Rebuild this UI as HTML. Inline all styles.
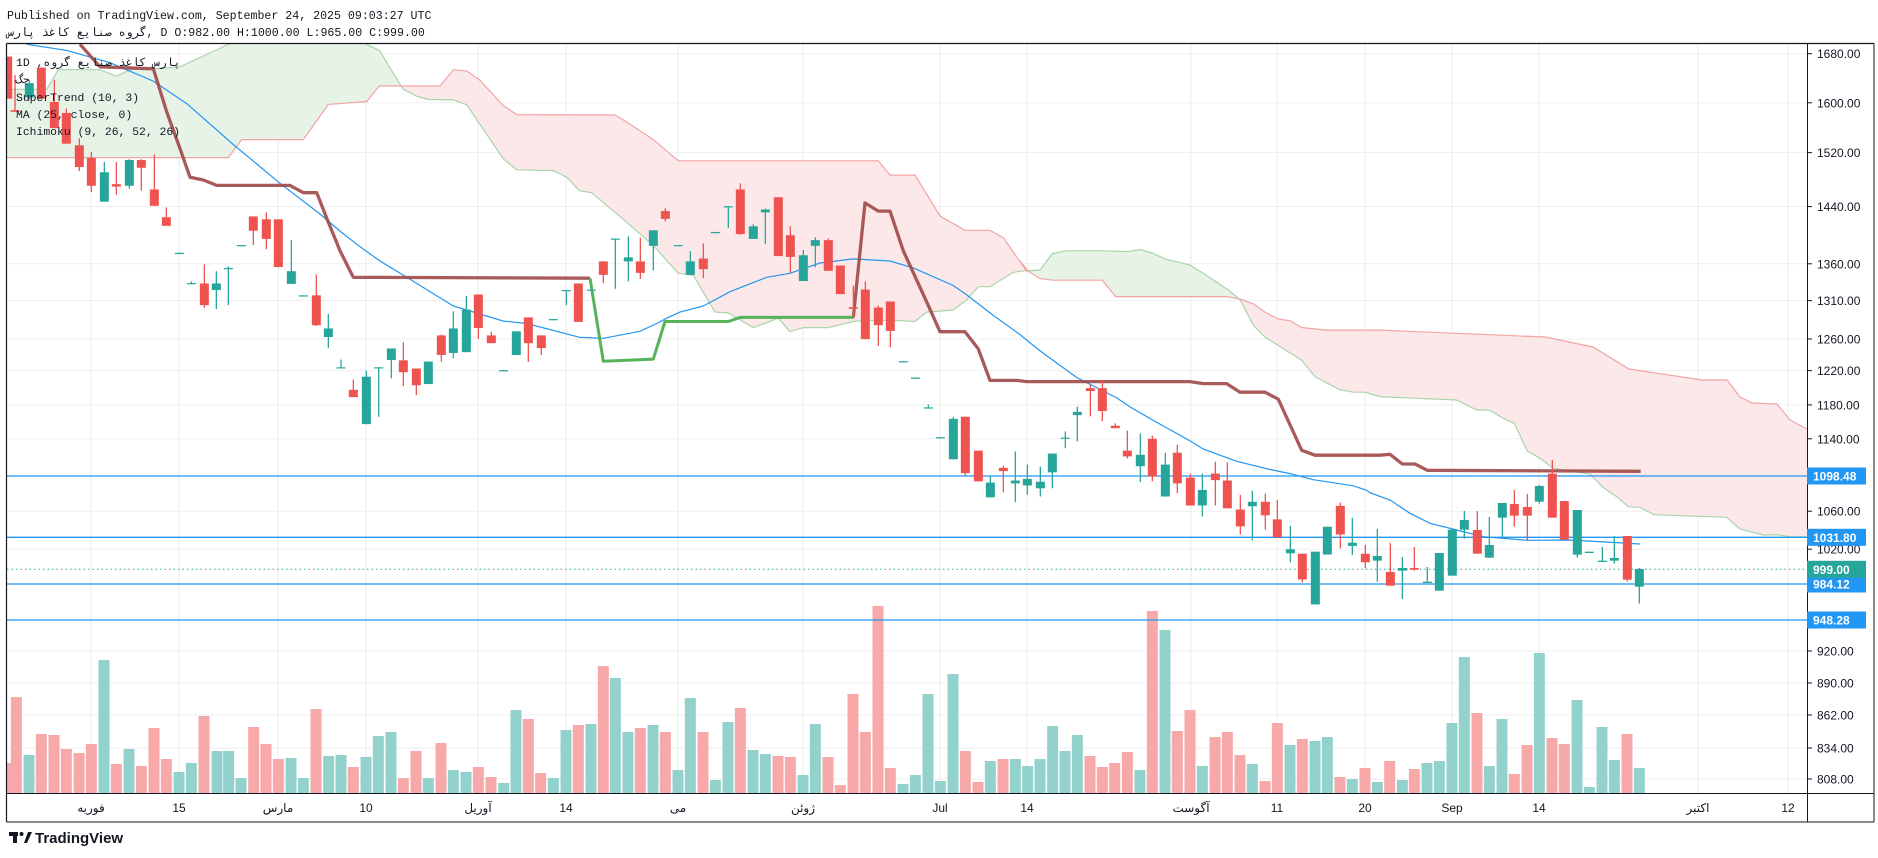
<!DOCTYPE html>
<html><head><meta charset="utf-8">
<style>
html,body{margin:0;padding:0;background:#fff;}
svg{display:block;}
text{font-family:"Liberation Sans","DejaVu Sans",sans-serif;}
text.mono,.mono text{font-family:"Liberation Mono","DejaVu Sans Mono","DejaVu Sans",monospace;}
</style></head>
<body>
<svg id="s" xmlns="http://www.w3.org/2000/svg" width="1878" height="858" viewBox="0 0 1878 858">
<defs>
<clipPath id="plot"><rect x="7" y="44" width="1800" height="749"/></clipPath>
<clipPath id="gz"><rect x="0" y="0" width="398" height="900"/><rect x="1028" y="0" width="207" height="900"/></clipPath>
<clipPath id="rz"><rect x="398" y="0" width="630" height="900"/><rect x="1235" y="0" width="700" height="900"/></clipPath>
</defs>
<rect width="1878" height="858" fill="#fff"/>
<text class="mono" x="7" y="19" font-size="11.6" fill="#131722">Published on TradingView.com, September 24, 2025 09:03:27 UTC</text>
<text class="mono" x="7" y="36" font-size="11.6" fill="#131722" style="unicode-bidi:bidi-override;direction:ltr">سراپ ذغاک عیانص هورگ, D O:982.00 H:1000.00 L:965.00 C:999.00</text>
<g id="grid" stroke="#efefef" stroke-width="1"></g>
<g clip-path="url(#plot)">
 <g id="cloud"></g>
 <g id="vol"></g>
 <g id="hl"></g>
 <g id="lines"></g>
 <g id="cand"></g>
</g>
<line x1="6.5" y1="43.5" x2="1874" y2="43.5" stroke="#131722" stroke-width="1.2"/>
<line x1="6.5" y1="43.5" x2="6.5" y2="822" stroke="#131722" stroke-width="1.2"/>
<line x1="1807.5" y1="43.5" x2="1807.5" y2="822" stroke="#131722" stroke-width="1"/>
<line x1="1874" y1="43.5" x2="1874" y2="822" stroke="#131722" stroke-width="1"/>
<line x1="6.5" y1="793.5" x2="1874" y2="793.5" stroke="#131722" stroke-width="1"/>
<line x1="6.5" y1="822" x2="1874" y2="822" stroke="#131722" stroke-width="1"/>
<g id="axis" font-size="12" fill="#131722"></g>
<g id="legend" class="mono" font-size="11.4" fill="#131722">
 <text x="16" y="66" style="unicode-bidi:bidi-override;direction:ltr">1D  ,هورگ عیانص ذغاک سراپ</text>
 <text x="16" y="83" style="unicode-bidi:bidi-override;direction:ltr">گج</text>
 <text x="16" y="101">SuperTrend (10, 3)</text>
 <text x="16" y="118">MA (25, close, 0)</text>
 <text x="16" y="135">Ichimoku (9, 26, 52, 26)</text>
</g>
<g id="logo">
 <rect x="9" y="832" width="9" height="4" fill="#131722"/>
 <rect x="13" y="832" width="4" height="11" fill="#131722"/>
 <circle cx="21.5" cy="834" r="2" fill="#131722"/>
 <path d="M24 843 L28 832 L32 832 L27 843 Z" fill="#131722"/>
 <text x="35" y="843" font-size="15" font-weight="bold" fill="#131722">TradingView</text>
</g>
</svg>
<script>
var NS="http://www.w3.org/2000/svg";
function el(p,t,a){var e=document.createElementNS(NS,t);for(var k in a)e.setAttribute(k,a[k]);p.appendChild(e);return e;}
var G=function(id){return document.getElementById(id);};
var hy=[53.7,102.8,152.6,206.6,263.8,300.6,339,370.6,404.9,438.8,476,511.2,549.2,651,683,715,748,779];
hy.forEach(function(y){el(G('grid'),'line',{x1:7,x2:1807,y1:y,y2:y});});
var vx=[91,179,278,366,478,566,678,803,940,1027,1191,1277,1365,1452,1539,1698,1788];
vx.forEach(function(x){el(G('grid'),'line',{x1:x,x2:x,y1:44,y2:793,stroke:'#ebebeb'});});
var tl=[[91,'فوریه'],[179,'15'],[278,'مارس'],[366,'10'],[478,'آوریل'],[566,'14'],[678,'می'],[803,'ژوئن'],[940,'Jul'],[1027,'14'],[1191,'آگوست'],[1277,'11'],[1365,'20'],[1452,'Sep'],[1539,'14'],[1698,'اکتبر'],[1788,'12']];
tl.forEach(function(t){var e=el(G('axis'),'text',{x:t[0],y:812,'text-anchor':'middle'});e.textContent=t[1];});
var pl=[[53.7,'1680.00'],[102.8,'1600.00'],[152.6,'1520.00'],[206.6,'1440.00'],[263.8,'1360.00'],[300.6,'1310.00'],[339,'1260.00'],[370.6,'1220.00'],[404.9,'1180.00'],[438.8,'1140.00'],[511.2,'1060.00'],[549.2,'1020.00'],[651,'920.00'],[683,'890.00'],[715,'862.00'],[748,'834.00'],[779,'808.00']];
pl.forEach(function(p){el(G('axis'),'line',{x1:1807,x2:1812,y1:p[0],y2:p[0],stroke:'#131722'});var e=el(G('axis'),'text',{x:1817,y:p[0]+4.5});e.textContent=p[1];});
var hls=[[476,'1098.48','#2196f3'],[537.3,'1031.80','#2196f3'],[584,'984.12','#2196f3'],[620,'948.28','#2196f3']];
hls.forEach(function(h){el(G('hl'),'line',{x1:7,x2:1807,y1:h[0],y2:h[0],stroke:h[2],'stroke-width':1.3});});
el(G('hl'),'line',{x1:7,x2:1807,y1:569.3,y2:569.3,stroke:'#26a69a','stroke-width':1,'stroke-dasharray':'1.5 3'});
var bx=hls.concat([[569.3,'999.00','#26a69a']]);
bx.forEach(function(h){el(G('axis'),'rect',{x:1807,y:h[0]-8.5,width:59,height:17,fill:h[2]});var e=el(G('axis'),'text',{x:1813,y:h[0]+4.5,fill:'#fff','font-weight':'bold'});e.textContent=h[1];});
function cv(a,ox,oy,sx,sy){return a.map(function(p){return [ox+p[0]*sx,oy+p[1]*sy];});}
var S=1/3,Y=1/2.446;
function z(a,ox){return cv(a,ox,30,S,Y);}
var A=[].concat(
 z([[20,145],[140,145],[175,97],[300,97],[350,113],[390,97],[460,95],[540,90],[620,60],[690,33]],0),
 [[300,10]],
 z([[80,35],[118,50],[190,145],[230,162],[265,170],[340,171],[380,183],[490,315],[530,342],[640,344],[680,360],[718,393],[755,398],[860,470],[940,527],[1015,595]],340),
 z([[40,600],[105,690],[145,692],[220,728],[295,705],[330,738],[370,728],[445,728],[520,713],[560,710],[640,710],[705,713],[740,690],[820,685],[860,660],[895,628],[930,628],[1000,593]],680),
 z([[0,590],[60,587],[97,547],[140,540],[245,540],[325,542],[360,537],[395,545],[435,560],[510,575],[550,595],[590,617],[625,636],[660,660],[700,722],[735,751],[845,808],[885,848],[960,880],[1000,886],[1035,886],[1080,897]],1020),
 cv([[260,0],[320,30],[358,30],[400,55],[433,70],[472,153],[510,175],[550,205],[660,222],[700,263],[740,290],[775,320],[810,322],[850,343]],1370,400,S,S),
 cv([[520,404],[740,412],[780,447],[850,465],[890,464],[930,470],[980,471]],1480,380,S,S)
);
var B=[].concat(
 z([[20,312],[685,312],[725,268],[910,268],[985,182],[1050,178]],0),
 z([[80,175],[118,137],[300,137],[340,97],[380,100],[420,123],[490,185],[530,207],[825,208],[860,225],[940,268],[1015,320]],340),
 z([[30,320],[595,320],[630,355],[705,355],[780,455],[855,490],[930,490],[970,508],[1040,590]],680),
 z([[0,565],[25,590],[60,608],[100,612],[247,612],[287,652],[620,652],[660,658],[700,670],[735,690],[775,707],[810,711],[845,728],[920,734],[1080,734]],1020),
 [[1545,337],[1593,347],[1629,369],[1702,380],[1727,380],[1740,397],[1752,403],[1777,404],[1790,420],[1807,429]]
);
function pts(a){return a.map(function(p){return p[0].toFixed(1)+','+p[1].toFixed(1);}).join(' ');}
var poly=pts(A.concat([[1807,537]]).concat(B.slice().reverse()).concat([[7,152]]));
el(G('cloud'),'polygon',{points:poly,fill:'#e8f3e8','clip-path':'url(#gz)'});
el(G('cloud'),'polygon',{points:poly,fill:'#fce8e8','clip-path':'url(#rz)'});
el(G('cloud'),'polyline',{points:pts(A),fill:'none',stroke:'#a9d5aa','stroke-width':1.2});
el(G('cloud'),'polyline',{points:pts(B),fill:'none',stroke:'#f0a4a4','stroke-width':1.2});
function vol(a,ox,oy){a.forEach(function(v){var x=ox+v[0]/3,t=oy+v[1]/3;el(G('vol'),'rect',{x:x-5.5,y:t,width:11,height:793-t,fill:v[2]=='g'?'#93d2cc':'#f6a9a8'});});}
vol([[24,489,'r'],[49,291,'r'],[87,465,'g'],[124,402,'r'],[162,405,'r'],[199,447,'r'],[237,459,'r'],[274,432,'r'],[312,180,'g'],[349,492,'r'],[387,447,'g'],[424,498,'r'],[462,384,'r'],[499,477,'r'],[537,516,'g'],[574,489,'g'],[612,348,'r'],[651,453,'g'],[686,453,'g'],[723,534,'g'],[761,381,'r'],[798,432,'r'],[835,477,'r'],[873,474,'g'],[910,534,'g'],[948,327,'r'],[986,468,'g'],[1023,465,'g'],[1060,501,'r'],[1098,471,'g'],[1135,408,'g'],[1173,396,'g'],[1210,534,'r'],[1248,453,'r'],[1285,534,'g'],[1323,429,'r'],[1360,510,'g'],[1398,516,'g'],[1435,501,'r'],[1473,531,'r'],[1511,549,'g'],[1548,330,'g']],0,600);
vol([[25,357,'r'],[62,519,'r'],[100,534,'g'],[138,390,'g'],[175,375,'r'],[213,372,'g'],[250,198,'r'],[286,234,'g'],[324,396,'g'],[361,384,'r'],[399,375,'g'],[436,396,'r'],[474,510,'g'],[511,294,'g'],[549,396,'r'],[586,540,'g'],[624,366,'g'],[661,324,'r'],[699,450,'g'],[736,462,'g'],[774,468,'r'],[811,471,'r'],[849,525,'g'],[886,372,'g'],[924,471,'r'],[961,555,'r'],[999,282,'r'],[1036,396,'r'],[1074,18,'r'],[1111,504,'r'],[1149,552,'g'],[1186,525,'g'],[1224,282,'g'],[1261,543,'g'],[1299,222,'g'],[1336,453,'r'],[1374,546,'r'],[1411,483,'g'],[1449,477,'r'],[1486,477,'g'],[1523,498,'g'],[1560,477,'g']],520,600);
vol([[38,378,'g'],[75,453,'g'],[112,405,'g'],[150,468,'r'],[187,501,'r'],[224,489,'r'],[262,456,'r'],[300,510,'g'],[337,33,'r'],[375,90,'g'],[412,393,'r'],[450,330,'r'],[487,498,'g'],[525,411,'r'],[562,396,'r'],[600,465,'r'],[637,492,'g'],[675,543,'r'],[712,369,'r'],[750,435,'g'],[787,417,'r'],[825,423,'g'],[862,411,'g'],[900,531,'r'],[937,537,'g'],[975,504,'r']],1040,600);
vol([[22,1146,'g'],[59,1083,'r'],[97,1140,'g'],[133,1107,'r'],[171,1089,'g'],[208,1083,'g'],[246,969,'g'],[283,771,'g'],[321,939,'r'],[358,1098,'g'],[396,957,'g'],[433,1122,'r'],[471,1035,'r'],[508,759,'g'],[546,1014,'r'],[583,1032,'r'],[621,900,'g'],[658,1161,'g'],[696,981,'g'],[733,1080,'g'],[771,1002,'r'],[808,1104,'g']],1370,400);
var brown1=[].concat(
 z([[240,35],[300,90],[460,95],[500,200],[540,290],[570,360],[610,367],[650,380],[870,380],[910,398],[950,398],[980,460],[1020,540]],0),
 z([[40,605],[750,607]],340));
var green=[].concat(z([[750,607],[790,810],[940,805],[975,713],[1050,713]],340),z([[145,713],[180,703],[520,703]],680));
var brown2=[].concat(
 z([[520,703],[555,423],[595,443],[630,443],[670,540],[740,665],[780,738],[855,738],[895,780],[930,857],[1010,857]],680),
 z([[20,860],[510,860],[550,865],[620,865],[660,886],[735,886],[775,903],[845,1028],[885,1040],[1080,1040]],1020),
 cv([[60,163],[97,192],[135,192],[172,211],[812,214]],1370,400,S,S));
var ma=[].concat(
 z([[80,35],[200,50],[330,80],[460,125],[560,180],[700,280],[840,375],[960,450],[1020,492]],0),
 z([[60,530],[120,565],[200,605],[340,675],[490,712],[560,718],[720,752],[790,754],[900,737],[950,718],[980,705],[1020,690]],340),
 z([[70,675],[150,640],[260,605],[330,595],[420,570],[520,560],[630,565],[700,582],[820,625],[860,648],[940,698],[1020,745]],680),
 z([[60,785],[170,850],[290,900],[330,922],[400,955],[510,1005],[550,1025],[650,1055],[750,1075],[810,1085],[880,1100],[1000,1115],[1040,1126]],1020),
 cv([[0,278],[60,300],[120,340],[180,370],[260,390],[340,410],[470,421],[600,420],[810,432]],1370,400,S,S));
el(G('lines'),'polyline',{points:pts(ma),fill:'none',stroke:'#2196f3','stroke-width':1.2});
[brown1,brown2].forEach(function(b){el(G('lines'),'polyline',{points:pts(b),fill:'none',stroke:'#a04848','stroke-width':3.3,'stroke-opacity':0.9,'stroke-linejoin':'round'});});
el(G('lines'),'polyline',{points:pts(green),fill:'none',stroke:'#4caf50','stroke-width':3,'stroke-opacity':0.95,'stroke-linejoin':'round'});
function cand(a,ox,oy,sy){a.forEach(function(c){var x=ox+c[0]/3,col=c[5]=='g'?'#26a69a':'#ef5350';
 var bt=oy+c[1]*sy,bb=oy+c[2]*sy,wt=oy+c[3]*sy,wb=oy+c[4]*sy;if(bb-bt<1.2)bb=bt+1.2;
 el(G('cand'),'line',{x1:x,x2:x,y1:wt,y2:wb,stroke:col,'stroke-width':1.3});
 el(G('cand'),'rect',{x:x-4.5,y:bt,width:9,height:bb-bt,fill:col});});}
cand([[23,65,168,65,168,'r'],[45,196,200,110,200,'r'],[88,130,165,123,170,'g'],[124,92,168,92,168,'r'],[163,176,240,122,240,'r'],[199,203,278,192,278,'r'],[238,282,335,265,345,'r'],[274,313,381,298,396,'r'],[313,348,420,323,420,'g'],[349,377,383,323,403,'r'],[388,318,381,316,388,'g'],[424,318,337,316,393,'r'],[463,390,430,304,430,'r'],[499,458,479,434,479,'r'],[538,545,548,544,548,'g'],[574,619,622,615,622,'g'],[613,620,673,573,680,'r'],[649,620,636,590,683,'g'],[685,582,585,578,673,'g'],[724,526,529,526,529,'g'],[760,456,491,456,526,'r'],[799,463,511,446,536,'r'],[835,463,580,463,580,'r'],[874,590,621,514,621,'g'],[910,649,652,649,652,'g'],[949,649,722,598,724,'r'],[985,730,751,695,778,'g'],[1023,825,828,806,828,'g']],0,30,Y);
cand([[40,880,898,855,898,'r'],[79,848,964,833,964,'g'],[116,825,828,825,946,'g'],[154,779,807,779,852,'g'],[190,808,837,764,871,'r'],[229,828,869,828,893,'r'],[265,811,866,811,866,'g'],[304,747,795,745,811,'r'],[340,730,790,688,803,'g'],[379,684,788,650,788,'g'],[415,647,729,647,756,'r'],[454,747,766,738,766,'r'],[491,832,835,832,835,'g'],[529,737,795,737,795,'g'],[565,703,766,703,812,'r'],[604,747,778,747,795,'r'],[640,707,710,707,710,'g'],[679,636,639,636,673,'g'],[715,620,714,620,714,'r'],[754,635,638,635,638,'g'],[790,566,599,566,619,'r'],[826,510,513,510,633,'g'],[865,556,566,505,615,'g'],[901,566,594,508,609,'r'],[940,490,528,490,588,'g'],[976,443,462,436,468,'r'],[1015,526,529,526,529,'g']],340,30,Y);
cand([[31,566,599,541,599,'g'],[70,559,585,522,607,'r'],[106,494,497,494,497,'g'],[145,431,434,431,484,'g'],[181,390,499,375,501,'r'],[220,480,511,475,511,'g'],[256,439,446,437,523,'g'],[295,409,553,409,553,'r'],[331,502,555,480,594,'r'],[370,551,614,538,614,'g'],[406,514,528,507,580,'g'],[445,514,589,510,589,'r'],[481,576,646,576,646,'r'],[520,678,682,625,705,'r'],[556,635,756,615,756,'r'],[595,679,722,674,773,'r'],[631,664,736,664,776,'r'],[670,810,813,810,813,'g'],[706,850,853,850,853,'g'],[745,923,926,916,926,'g'],[781,996,999,996,999,'g'],[820,951,1050,946,1050,'g'],[856,946,1084,946,1090,'r'],[895,1029,1104,1029,1104,'r'],[931,1107,1143,1092,1143,'g'],[970,1071,1079,1066,1131,'r'],[1006,1102,1109,1031,1155,'g']],680,30,Y);
cand([[22,1098,1114,1063,1137,'g'],[61,1105,1121,1068,1141,'g'],[97,1036,1082,1036,1121,'g'],[136,997,1000,982,1023,'g'],[172,934,942,921,1006,'g'],[211,876,883,868,945,'r'],[247,876,932,856,957,'r'],[286,968,974,962,974,'r'],[322,1029,1043,980,1048,'r'],[361,1039,1067,987,1106,'g'],[397,1000,1092,992,1104,'r'],[436,1063,1141,1034,1141,'g'],[472,1034,1109,1014,1133,'r'],[511,1095,1163,1085,1163,'r'],[547,1125,1163,1085,1190,'g'],[586,1085,1101,1056,1163,'r'],[622,1102,1170,1058,1170,'r'],[661,1173,1214,1137,1234,'r'],[697,1154,1165,1127,1248,'g'],[736,1154,1187,1134,1222,'r'],[772,1197,1241,1150,1241,'r'],[811,1270,1280,1213,1302,'g'],[847,1281,1344,1281,1351,'r'],[886,1276,1405,1276,1405,'g'],[922,1215,1283,1215,1283,'g'],[961,1164,1234,1156,1268,'r'],[997,1254,1262,1193,1284,'g'],[1036,1281,1302,1259,1317,'r']],1020,30,Y);
cand([[22,468,482,387,545,'g'],[61,516,557,429,557,'r'],[97,504,512,471,597,'g'],[133,504,509,441,512,'r'],[172,545,549,501,549,'g'],[208,459,572,459,572,'g'],[247,389,527,389,527,'g'],[283,360,389,333,416,'g'],[322,390,461,333,461,'r'],[358,435,473,351,473,'g'],[397,309,353,309,411,'g'],[433,312,347,270,380,'r'],[472,321,347,282,423,'r'],[508,258,305,255,311,'g'],[547,221,353,180,353,'r'],[583,303,419,303,419,'r'],[622,330,464,330,473,'g'],[658,455,459,455,459,'g'],[697,482,486,441,486,'g'],[733,474,482,408,491,'g'],[772,408,539,408,545,'r'],[808,507,560,504,611,'g']],1370,400,S);
</script>
</body></html>
